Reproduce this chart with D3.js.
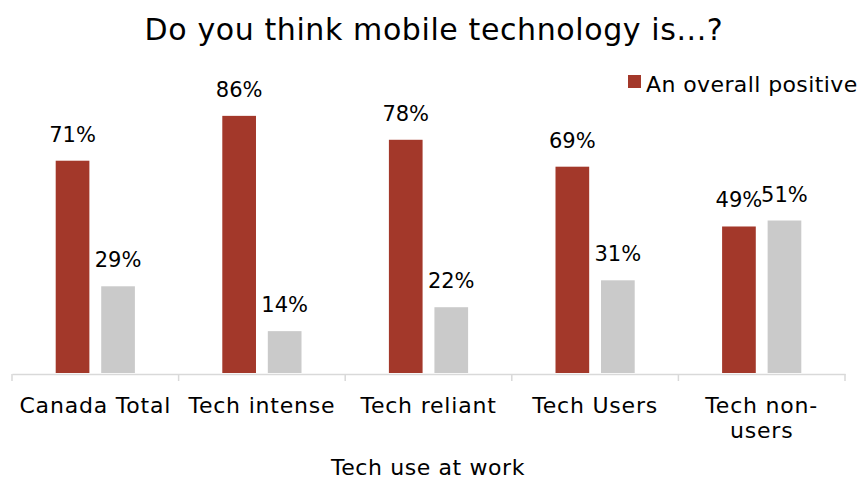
<!DOCTYPE html>
<html>
<head>
<meta charset="utf-8">
<script src="https://cdn.jsdelivr.net/npm/d3@7"></script>
<style>
  html, body { margin: 0; padding: 0; background: #fff; }
  svg { display: block; font-family: "DejaVu Sans", Verdana, sans-serif; }
</style>
</head>
<body>
<svg id="chart" width="862" height="481"></svg>
<script>
// Survey: share who see mobile technology as positive vs negative, by tech use at work
const categories = ["Canada Total", "Tech intense", "Tech reliant", "Tech Users", "Tech non-users"];
const categoryLines = [["Canada Total"], ["Tech intense"], ["Tech reliant"], ["Tech Users"], ["Tech non-", "users"]];
const seriesNames = ["An overall positive", "An overall negative"];
const positive = [71, 86, 78, 69, 49];
const negative = [29, 14, 22, 31, 51];
const colors = ["#a3382a", "#cacaca"];

const svg = d3.select("#chart");
const margin = { left: 12, right: 17, top: 74, bottom: 109 };
const W = 862, H = 481;
const baseY = H - margin.bottom + 1;

const x = d3.scaleBand().domain(categories).range([margin.left, W - margin.right]).paddingInner(0).paddingOuter(0);
const inner = d3.scaleBand().domain(seriesNames).range([0, x.bandwidth()]).paddingInner(0.26).paddingOuter(0.96);
const y = d3.scaleLinear().domain([0, 100]).range([baseY, margin.top]);

const rows = categories.map((c, i) => ({ cat: c, vals: [positive[i], negative[i]] }));

// Title
svg.append("text")
  .attr("x", 434).attr("y", 40)
  .attr("text-anchor", "middle")
  .attr("font-size", 30)
  .attr("letter-spacing", 0.6)
  .attr("fill", "#000")
  .text("Do you think mobile technology is...?");

// Bars
const groups = svg.selectAll("g.cat").data(rows).join("g")
  .attr("class", "cat")
  .attr("transform", d => `translate(${x(d.cat)},0)`);

groups.selectAll("rect").data(d => d.vals.map((v, j) => ({ v, s: seriesNames[j], j }))).join("rect")
  .attr("x", d => inner(d.s))
  .attr("width", inner.bandwidth())
  .attr("y", d => y(d.v))
  .attr("height", d => y(0) - y(d.v))
  .attr("fill", d => colors[d.j]);

// Value labels
groups.selectAll("text.val").data(d => d.vals.map((v, j) => ({ v, s: seriesNames[j], j }))).join("text")
  .attr("class", "val")
  .attr("x", d => inner(d.s) + inner.bandwidth() / 2)
  .attr("y", d => y(d.v) - 19)
  .attr("text-anchor", "middle")
  .attr("font-size", 21)
  .attr("fill", "#000")
  .text(d => d.v + "%");

// Category axis
const axis = svg.append("g")
  .attr("transform", `translate(0,${baseY + 1})`)
  .call(d3.axisBottom(x).tickSize(0).tickFormat(""));
axis.select(".domain").attr("stroke", "#d9d9d9").attr("stroke-width", 1.5);
axis.selectAll(".tick").remove();

// Boundary ticks between categories
const bounds = categories.map(c => x(c)).concat([x.range()[1]]);
svg.append("g").selectAll("line").data(bounds).join("line")
  .attr("x1", d => d).attr("x2", d => d)
  .attr("y1", baseY + 1).attr("y2", baseY + 8)
  .attr("stroke", "#d9d9d9").attr("stroke-width", 1.5);

// Category labels
const lab = svg.append("g").selectAll("text").data(categories).join("text")
  .attr("text-anchor", "middle")
  .attr("font-size", 22)
  .attr("letter-spacing", 0.8)
  .attr("fill", "#000")
  .attr("transform", d => `translate(${x(d) + x.bandwidth() / 2},${baseY + 40})`);
lab.each(function(d, i) {
  d3.select(this).selectAll("tspan").data(categoryLines[i]).join("tspan")
    .attr("x", 0).attr("dy", (t, k) => k === 0 ? 0 : 25)
    .text(t => t);
});

// Axis title
svg.append("text")
  .attr("x", 428).attr("y", 475)
  .attr("text-anchor", "middle")
  .attr("font-size", 22)
  .attr("letter-spacing", 0.6)
  .attr("fill", "#000")
  .text("Tech use at work");

// Legend: only the first entry fits inside the frame
const legend = svg.append("g").attr("transform", "translate(628,75)");
legend.append("rect").attr("width", 13).attr("height", 13).attr("fill", colors[0]);
legend.append("text").attr("x", 18).attr("y", 17)
  .attr("font-size", 22).attr("letter-spacing", 0.4)
  .attr("fill", "#000").text(seriesNames[0]);
</script>
</body>
</html>
